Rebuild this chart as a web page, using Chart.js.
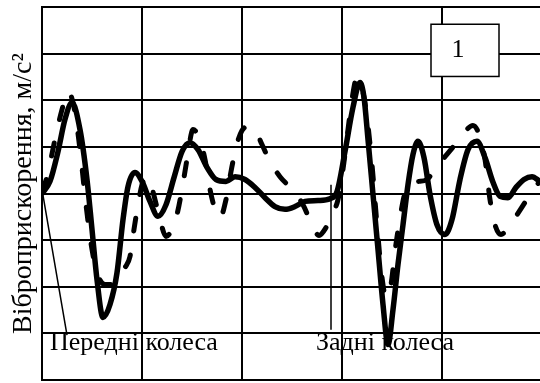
<!DOCTYPE html>
<html>
<head>
<meta charset="utf-8">
<script src="https://cdn.jsdelivr.net/npm/chart.js@4/dist/chart.umd.min.js"></script>
<style>
  html, body { margin: 0; padding: 0; background: #fff; }
  canvas { display: block; }
</style>
</head>
<body>
<canvas id="c" width="540" height="383"></canvas>
<script>
// Time axis (grid divisions) and vibration acceleration (grid divisions, 0 = rest level)
const curve1Time = [0.00,0.08,0.16,0.23,0.30,0.38,0.45,0.50,0.55,0.61,0.68,0.75,0.81,0.86,0.93,1.00,1.08,1.16,1.24,1.32,1.40,1.48,1.56,1.65,1.74,1.84,1.93,2.03,2.13,2.23,2.33,2.43,2.53,2.63,2.76,2.88,2.95,3.03,3.11,3.18,3.22,3.26,3.31,3.36,3.41,3.46,3.51,3.56,3.61,3.66,3.71,3.76,3.82,3.88,3.95,4.03,4.10,4.18,4.26,4.35,4.43,4.51,4.58,4.66,4.74,4.82,4.90,4.98];
const curve1Accel = [0.00,0.26,0.90,1.59,1.95,1.37,0.30,-0.77,-1.85,-2.66,-2.38,-1.70,-0.56,0.15,0.45,0.26,-0.17,-0.49,-0.24,0.34,0.90,1.09,0.94,0.56,0.30,0.26,0.36,0.30,0.13,-0.09,-0.28,-0.34,-0.28,-0.17,-0.15,-0.11,0.04,0.90,1.85,2.38,2.06,1.16,-0.02,-1.20,-2.38,-3.24,-2.49,-1.52,-0.67,0.19,0.84,1.12,0.77,-0.02,-0.67,-0.88,-0.56,0.30,0.94,1.12,0.77,0.24,-0.06,-0.09,0.13,0.30,0.36,0.26];

const curve2Time = [0.00,0.05,0.13,0.20,0.26,0.32,0.38,0.44,0.50,0.56,0.63,0.70,0.77,0.83,0.88,0.92,0.96,1.00,1.04,1.08,1.13,1.18,1.24,1.30,1.35,1.40,1.45,1.51,1.57,1.63,1.68,1.73,1.78,1.84,1.89,1.94,2.00,2.06,2.13,2.20,2.28,2.38,2.50,2.61,2.70,2.77,2.84,2.90,2.96,3.01,3.06,3.10,3.15,3.20,3.25,3.30,3.35,3.40,3.44,3.49,3.53,3.58,3.63,3.69,3.77,3.85,3.93,4.03,4.13,4.23,4.31,4.37,4.43,4.48,4.53,4.59,4.65,4.73,4.83,4.91,4.98];
const curve2Accel = [0.04,0.36,1.16,1.80,2.19,1.85,0.94,-0.24,-1.20,-1.76,-1.95,-1.95,-1.80,-1.59,-1.35,-0.77,-0.24,0.19,0.36,0.26,-0.13,-0.56,-0.92,-0.77,-0.45,0.09,0.73,1.37,1.20,0.73,0.09,-0.34,-0.52,-0.13,0.47,0.99,1.35,1.44,1.37,1.05,0.69,0.36,0.09,-0.24,-0.67,-0.90,-0.73,-0.45,-0.13,0.52,1.37,2.02,2.49,2.27,1.63,0.62,-0.67,-1.80,-2.23,-1.95,-1.24,-0.52,0.02,0.24,0.26,0.30,0.52,0.79,1.05,1.33,1.46,1.27,0.73,-0.13,-0.67,-0.88,-0.77,-0.52,-0.19,0.09,0.26];

const yTitle = 'Віброприскорення, м/с²';
const frontLabel = 'Передні колеса';
const rearLabel = 'Задні колеса';
const boxLabel = '1';

const serif = '"Liberation Serif", "Times New Roman", serif';

const toPoints = (xs, ys) => xs.map((x, i) => ({ x, y: ys[i] }));

// Callout texts, leader lines and the numbered box, placed in axis units
const annotations = {
  id: 'annotations',
  afterDatasetsDraw(chart) {
    const { ctx, scales: { x, y } } = chart;
    const px = v => x.getPixelForValue(v);
    const py = v => y.getPixelForValue(v);
    ctx.save();
    ctx.strokeStyle = '#000';
    ctx.lineWidth = 1.5;
    ctx.beginPath();
    ctx.moveTo(px(0.01), py(-0.04));
    ctx.lineTo(px(0.25), py(-3.04));
    ctx.moveTo(px(2.89), py(0.19));
    ctx.lineTo(px(2.89), py(-2.92));
    ctx.stroke();

    ctx.fillStyle = '#000';
    ctx.font = '26px ' + serif;
    ctx.textBaseline = 'alphabetic';
    ctx.textAlign = 'left';
    ctx.fillText(frontLabel, px(0.08), py(-3.35));
    ctx.fillText(rearLabel, px(2.74), py(-3.35));

    const bx0 = px(3.89), bx1 = px(4.57), by0 = py(3.63), by1 = py(2.51);
    ctx.fillStyle = '#fff';
    ctx.fillRect(bx0, by0, bx1 - bx0, by1 - by0);
    ctx.lineWidth = 1.5;
    ctx.strokeRect(bx0, by0, bx1 - bx0, by1 - by0);
    ctx.fillStyle = '#000';
    ctx.textAlign = 'center';
    ctx.textBaseline = 'middle';
    ctx.fillText(boxLabel, px(4.16), py(3.07));
    ctx.restore();
  }
};

new Chart(document.getElementById('c'), {
  type: 'line',
  data: {
    datasets: [
      {
        data: toPoints(curve1Time, curve1Accel),
        borderColor: '#000',
        borderWidth: 5.5,
        pointRadius: 0,
        cubicInterpolationMode: 'monotone',
        borderCapStyle: 'round',
        borderJoinStyle: 'round'
      },
      {
        data: toPoints(curve2Time, curve2Accel),
        borderColor: '#000',
        borderWidth: 5,
        borderDash: [13, 24],
        pointRadius: 0,
        cubicInterpolationMode: 'monotone',
        borderCapStyle: 'round',
        borderJoinStyle: 'round'
      }
    ]
  },
  options: {
    responsive: false,
    devicePixelRatio: 1,
    animation: false,
    layout: { padding: { left: 2, top: 7, right: 0, bottom: 3 } },
    plugins: { legend: { display: false }, tooltip: { enabled: false } },
    scales: {
      x: {
        type: 'linear',
        min: 0,
        max: 4.98,
        ticks: { display: false, stepSize: 1, includeBounds: false },
        grid: { color: '#000', lineWidth: 2, drawTicks: false },
        border: { color: '#000', width: 2 }
      },
      y: {
        min: -4,
        max: 4,
        ticks: { display: false, stepSize: 1 },
        grid: { color: '#000', lineWidth: 2, drawTicks: false },
        border: { color: '#000', width: 2 },
        title: {
          display: true,
          text: yTitle,
          color: '#000',
          font: { family: serif, size: 28, weight: 'normal' },
          padding: { top: 5, bottom: 1.4 }
        }
      }
    }
  },
  plugins: [annotations]
});
</script>
</body>
</html>
